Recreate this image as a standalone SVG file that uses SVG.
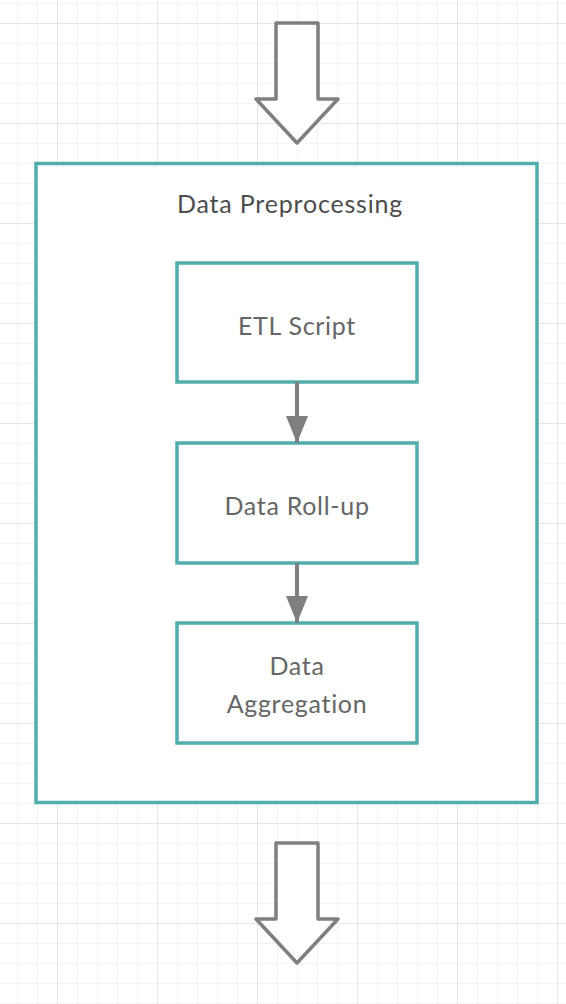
<svg xmlns="http://www.w3.org/2000/svg" width="566" height="1004" viewBox="0 0 566 1004">
<defs>
<pattern id="minor" x="17" y="3" width="20" height="20" patternUnits="userSpaceOnUse">
<path d="M0 0 V20 M0 0 H20" fill="none" stroke="#f3f3f3" stroke-width="2"/>
</pattern>
<pattern id="major" x="57" y="23" width="100" height="100" patternUnits="userSpaceOnUse">
<path d="M0 0 V100 M0 0 H100" fill="none" stroke="#e6e6e6" stroke-width="2"/>
</pattern>
<marker id="ah" markerUnits="userSpaceOnUse" markerWidth="28" markerHeight="22" refX="27" refY="11" orient="auto" viewBox="0 0 28 22">
<path d="M0 0 L27 11 L0 22 Z" fill="#7f7f7f"/>
</marker>
</defs>
<style>
.box{fill:#fff;stroke:#52adad;stroke-width:3.5}
.big{fill:#fff;stroke:#7f7f7f;stroke-width:3.5;stroke-linejoin:round}
.lbl{font-family:Lato,"Open Sans","Liberation Sans",sans-serif;font-size:25px;letter-spacing:0.7px;fill:#666;text-anchor:middle}
.ttl{font-family:Lato,"Open Sans","Liberation Sans",sans-serif;font-size:25px;letter-spacing:0.8px;fill:#4d4d4d;text-anchor:middle}
.conn{stroke:#7f7f7f;stroke-width:4;fill:none}
</style>
<rect width="566" height="1004" fill="#fff"/>
<rect width="566" height="1004" fill="url(#minor)"/>
<rect width="566" height="1004" fill="url(#major)"/>
<g id="arrow-in">
<path class="big" d="M276 23 H318 V99 H338 L297 143 L256 99 H276 Z"/>
</g>
<g id="data-preprocessing">
<rect class="box" x="36" y="163.5" width="501" height="639"/>
<text class="ttl" x="290" y="212.5">Data Preprocessing</text>
</g>
<g id="etl-script">
<rect class="box" x="177" y="263" width="240" height="119"/>
<text class="lbl" x="297" y="334.5">ETL Script</text>
</g>
<g id="data-rollup">
<rect class="box" x="177" y="443" width="240" height="120"/>
<text class="lbl" x="297" y="514.5">Data Roll-up</text>
</g>
<g id="data-aggregation">
<rect class="box" x="177" y="623" width="240" height="120"/>
<text class="lbl" x="297" y="674.5">Data</text>
<text class="lbl" x="297" y="712.5">Aggregation</text>
</g>
<g id="connectors">
<path class="conn" d="M297 382 V443" marker-end="url(#ah)"/>
<path class="conn" d="M297 563 V623" marker-end="url(#ah)"/>
</g>
<g id="arrow-out">
<path class="big" d="M276 843 H318 V919 H338 L297 963 L256 919 H276 Z"/>
</g>
</svg>
